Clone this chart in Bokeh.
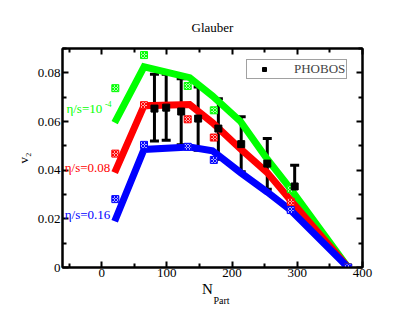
from bokeh.plotting import figure
from bokeh.models import (Range1d, FixedTicker, LinearAxis, Label, Legend, LegendItem, Title,
                          Whisker, TeeHead, ColumnDataSource, CustomJSTickFormatter)
from bokeh.embed import file_html
from bokeh.resources import INLINE

# ---- data ----
band_npart = [20, 65, 135, 170, 213, 254, 290, 378]
band_green = [0.0595, 0.0825, 0.0780, 0.0705, 0.0600, 0.0445, 0.0322, 0.0]
band_red = [0.0390, 0.0665, 0.0670, 0.0595, 0.0487, 0.0390, 0.0275, 0.0]
band_blue = [0.0190, 0.0485, 0.0495, 0.0480, 0.0390, 0.0310, 0.0235, 0.0]

pts_npart = [21, 65, 132, 172, 290, 378]
pts_green = [0.0737, 0.0873, 0.0746, 0.0646, 0.0322, 0.0]
pts_red = [0.0468, 0.0667, 0.0609, 0.0534, 0.0270, 0.0]
pts_blue = [0.0281, 0.0504, 0.0496, 0.0442, 0.0236, 0.0]

phobos_npart = [81, 99, 122, 148, 179, 214, 254, 296]
phobos_v2 = [0.0653, 0.0657, 0.0641, 0.0612, 0.0571, 0.0507, 0.0427, 0.0333]
phobos_hi = [0.0794, 0.0794, 0.0776, 0.0742, 0.0694, 0.0620, 0.0530, 0.0420]
phobos_lo = [0.0520, 0.0523, 0.0504, 0.0482, 0.0445, 0.0393, 0.0322, 0.0246]

x_ticks = [0, 100, 200, 300, 400]
x_minor = [-50, 50, 150, 250, 350]
y_ticks = [0, 0.02, 0.04, 0.06, 0.08]
y_minor = [0.01, 0.03, 0.05, 0.07, 0.09]

GREEN, RED, BLUE = "#00ff00", "#ff0000", "#0000ff"
SERIF = "Liberation Serif"

p = figure(width=407, height=315, x_range=Range1d(-60, 400), y_range=Range1d(0, 0.09),
           output_backend="svg", toolbar_location=None,
           min_border_left=62, min_border_right=45, min_border_top=48, min_border_bottom=48)
p.grid.visible = False
p.outline_line_color = "black"
p.outline_line_width = 2
p.background_fill_color = "white"
p.border_fill_color = "white"

yfmt = CustomJSTickFormatter(code="return Math.abs(tick) < 1e-9 ? '0' : tick.toFixed(2);")
blank = CustomJSTickFormatter(code="return '';")

def style(ax, ticks, minor, standoff, labels=True):
    ax.ticker = FixedTicker(ticks=ticks, minor_ticks=minor)
    ax.axis_line_width = 2
    ax.axis_line_color = "black"
    ax.major_tick_in = 6
    ax.major_tick_out = 0
    ax.minor_tick_in = 4
    ax.minor_tick_out = 0
    ax.major_tick_line_width = 2
    ax.minor_tick_line_width = 2
    ax.major_label_text_font = SERIF
    ax.major_label_text_font_size = "13px"
    ax.major_label_text_color = "black"
    ax.major_label_standoff = standoff
    if not labels:
        ax.formatter = blank
        ax.major_label_standoff = 0

style(p.xaxis[0], x_ticks, x_minor, 1)
style(p.yaxis[0], y_ticks, y_minor, 2)
p.yaxis[0].formatter = yfmt
p.yaxis[0].axis_label = "v₂"
p.yaxis[0].axis_label_text_font = SERIF
p.yaxis[0].axis_label_text_font_style = "normal"
p.yaxis[0].axis_label_text_font_size = "13px"
p.yaxis[0].axis_label_text_color = "black"
p.yaxis[0].axis_label_standoff = 4

top = LinearAxis()
style(top, x_ticks, x_minor, 0, labels=False)
p.add_layout(top, "above")
right = LinearAxis()
style(right, y_ticks, y_minor, 0, labels=False)
p.add_layout(right, "right")

# title
p.title.text = "Glauber"
p.title.align = "center"
p.title.text_font = SERIF
p.title.text_font_style = "normal"
p.title.text_font_size = "13px"
p.title.text_color = "black"
p.title.standoff = 28

# x axis title N_Part (main letter + subscript)
p.add_layout(Title(text="N", align="left", offset=139.5, standoff=-1, text_font=SERIF,
                   text_font_style="normal", text_font_size="15px", text_color="black"), "below")
p.add_layout(Title(text="Part", align="left", offset=151, standoff=-8, text_font=SERIF,
                   text_font_style="normal", text_font_size="10px", text_color="black"), "below")

# bands
for vals, col in [(band_green, GREEN), (band_red, RED), (band_blue, BLUE)]:
    p.line(band_npart, vals, line_color=col, line_width=7, line_join="miter", line_cap="butt")

# model points
for vals, col in [(pts_green, GREEN), (pts_red, RED), (pts_blue, BLUE)]:
    p.scatter(pts_npart, vals, marker="square", size=7, line_color=col, line_width=1,
              fill_color="white", hatch_pattern="diagonal_cross", hatch_color=col,
              hatch_scale=3, hatch_weight=1.2)

# PHOBOS data
src = ColumnDataSource(dict(x=phobos_npart, y=phobos_v2, hi=phobos_hi, lo=phobos_lo))
wh = Whisker(base="x", upper="hi", lower="lo", source=src, line_color="black", line_width=3,
             upper_head=TeeHead(size=9, line_width=3, line_color="black"),
             lower_head=TeeHead(size=9, line_width=3, line_color="black"))
p.add_layout(wh)
ph = p.scatter("x", "y", source=src, marker="square", size=7, color="black")

legend = Legend(items=[LegendItem(label="PHOBOS", renderers=[ph])], location=(184, 188),
                padding=1, margin=0, spacing=0, glyph_width=32, glyph_height=10,
                label_standoff=14, label_height=10, label_text_line_height=1.0,
                label_text_font=SERIF, label_text_font_size="13px",
                border_line_color="#444444", border_line_width=1,
                background_fill_color="white", background_fill_alpha=1)
p.add_layout(legend, "center")

# in-frame text labels
def lab(x, y, text, col, size="13px"):
    p.add_layout(Label(x=x, y=y, text=text, text_color=col, text_font=SERIF,
                       text_font_size=size, text_align="left", text_baseline="alphabetic"))

lab(-54, 0.0655, "η/s=10", GREEN)
lab(5, 0.0670, "-4", GREEN, size="8px")
lab(-56.5, 0.0411, "η/s=0.08", RED)
lab(-56.5, 0.0216, "η/s=0.16", BLUE)

open("out.html", "w").write(file_html(p, INLINE))
